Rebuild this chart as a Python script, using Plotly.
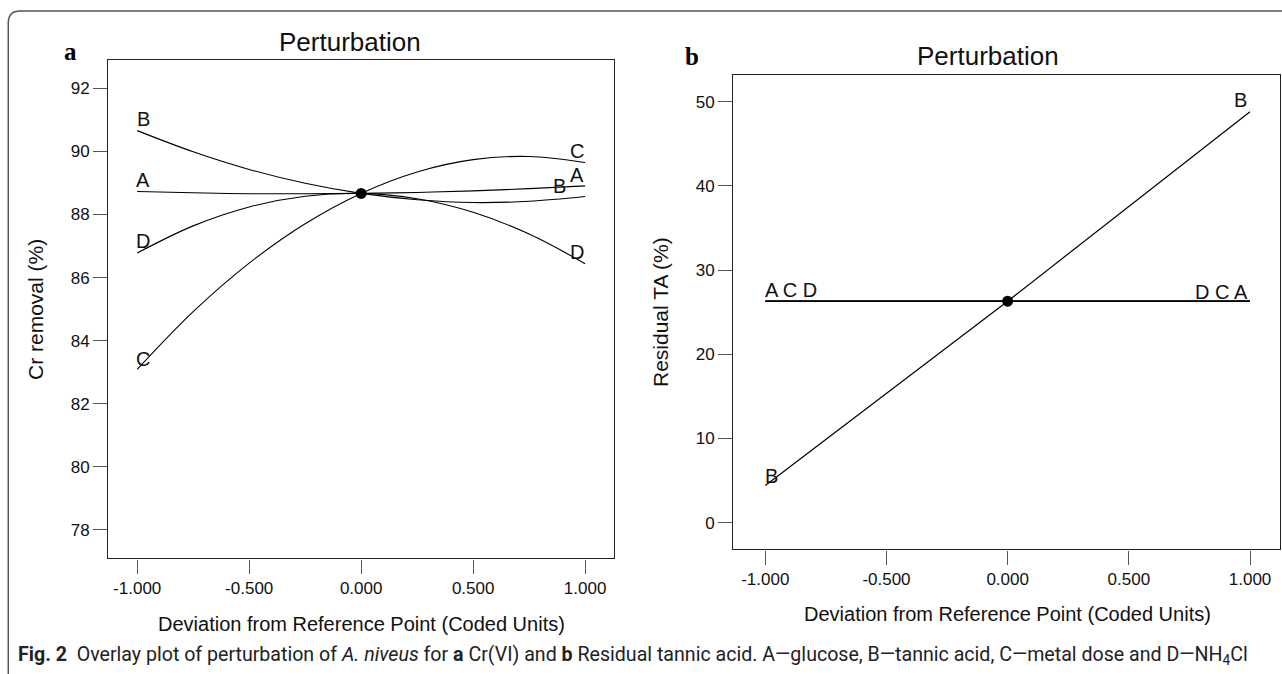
import plotly.graph_objects as go

W, H = 1282, 674

# ---------------- data ----------------
x_coded = [-1.0, -0.75, -0.5, -0.25, 0.0, 0.25, 0.5, 0.75, 1.0]
cr_A = [88.73, 88.69, 88.66, 88.66, 88.67, 88.70, 88.75, 88.82, 88.91]
cr_B = [90.66, 89.99, 89.43, 88.99, 88.67, 88.47, 88.38, 88.42, 88.57]
cr_C = [83.09, 84.92, 86.46, 87.71, 88.67, 89.35, 89.74, 89.84, 89.65]
cr_D = [86.78, 87.64, 88.24, 88.58, 88.67, 88.50, 88.07, 87.38, 86.44]
cr_ref_x = [0.0]
cr_ref_y = [88.67]

ta_x = [-1.0, 0.0, 1.0]
ta_A = [26.3, 26.3, 26.3]
ta_B = [4.4, 26.3, 48.8]
ta_C = [26.3, 26.3, 26.3]
ta_D = [26.3, 26.3, 26.3]
ta_ref_x = [0.0]
ta_ref_y = [26.3]

x_tickvals = [-1.0, -0.5, 0.0, 0.5, 1.0]
x_ticktext = ["-1.000", "-0.500", "0.000", "0.500", "1.000"]
cr_yticks = [78, 80, 82, 84, 86, 88, 90, 92]
ta_yticks = [0, 10, 20, 30, 40, 50]

# ---------------- helpers ----------------
def px(x):
    return x / W

def py(y):
    return 1 - y / H

FONT = "Liberation Sans, Arial, sans-serif"
INK = "#111111"

fig = go.Figure()

line_style = dict(color="black", width=1.1)
for ys in (cr_A, cr_B, cr_C, cr_D):
    fig.add_trace(go.Scatter(x=x_coded, y=ys, mode="lines", line=dict(shape="spline", **line_style),
                             xaxis="x", yaxis="y", hoverinfo="skip"))
fig.add_trace(go.Scatter(x=cr_ref_x, y=cr_ref_y, mode="markers", marker=dict(color="black", size=11),
                         xaxis="x", yaxis="y", hoverinfo="skip"))

for ys in (ta_A, ta_C, ta_D, ta_B):
    fig.add_trace(go.Scatter(x=ta_x, y=ys, mode="lines", line=dict(color="black", width=1.2),
                             xaxis="x2", yaxis="y2", hoverinfo="skip"))
fig.add_trace(go.Scatter(x=ta_ref_x, y=ta_ref_y, mode="markers", marker=dict(color="black", size=11),
                         xaxis="x2", yaxis="y2", hoverinfo="skip"))

axis_common = dict(showline=True, mirror=True, linecolor="#222222", linewidth=1.4,
                   showgrid=False, zeroline=False, ticks="outside", ticklen=14, tickwidth=1.2,
                   tickcolor="#555555", tickfont=dict(family=FONT, size=17, color=INK))

fig.update_layout(
    width=W, height=H, margin=dict(l=0, r=0, t=0, b=0),
    paper_bgcolor="white", plot_bgcolor="white", showlegend=False,
    xaxis=dict(domain=[px(108.3), px(613.8)], range=[-1.129, 1.128], anchor="y",
               tickvals=x_tickvals, ticktext=x_ticktext, **axis_common),
    yaxis=dict(domain=[py(558.3), py(60.3)], range=[77.10, 92.89], anchor="x",
               tickvals=cr_yticks, **axis_common),
    xaxis2=dict(domain=[px(733.3), px(1280.3)], range=[-1.132, 1.125], anchor="y2",
                tickvals=x_tickvals, ticktext=x_ticktext, **axis_common),
    yaxis2=dict(domain=[py(549.3), py(75.0)], range=[-3.17, 53.17], anchor="x2",
                tickvals=ta_yticks, **axis_common),
)

ann = []

def lab(text, x, y, xref, yref, size=20):
    ann.append(dict(text=text, x=x, y=y, xref=xref, yref=yref, showarrow=False,
                    xanchor="center", yanchor="middle",
                    font=dict(family=FONT, size=size, color=INK)))

# curve labels, panel a
lab("B", -0.973, 91.02, "x", "y")
lab("A", -0.973, 89.10, "x", "y")
lab("D", -0.973, 87.15, "x", "y")
lab("C", -0.973, 83.42, "x", "y")
lab("C", 0.962, 90.02, "x", "y")
lab("A", 0.964, 89.26, "x", "y")
lab("B", 0.885, 88.89, "x", "y")
lab("D", 0.962, 86.80, "x", "y")
# curve labels, panel b
lab("B", 0.96, 50.2, "x2", "y2")
lab("B", -0.975, 5.54, "x2", "y2")
lab("A C D", -0.893, 27.6, "x2", "y2")
lab("D C A", 0.884, 27.4, "x2", "y2")

# panel titles
lab("Perturbation", px(350), py(42), "paper", "paper", size=26)
lab("Perturbation", px(988), py(56), "paper", "paper", size=26)

# axis titles
lab("Deviation from Reference Point (Coded Units)", px(361), py(624), "paper", "paper", size=20)
lab("Deviation from Reference Point (Coded Units)", px(1007), py(614), "paper", "paper", size=20)
ann.append(dict(text="Cr removal (%)", x=px(35), y=py(310), xref="paper", yref="paper",
                showarrow=False, textangle=-90, xanchor="center", yanchor="middle",
                font=dict(family=FONT, size=21, color=INK)))
ann.append(dict(text="Residual TA (%)", x=px(660), y=py(312), xref="paper", yref="paper",
                showarrow=False, textangle=-90, xanchor="center", yanchor="middle",
                font=dict(family=FONT, size=21, color=INK)))

# panel letters
for t, x, y in (("a", 70, 51), ("b", 692, 57)):
    ann.append(dict(text="<b>" + t + "</b>", x=px(x), y=py(y), xref="paper", yref="paper",
                    showarrow=False, xanchor="center", yanchor="middle",
                    font=dict(family="Liberation Serif, Times New Roman, serif", size=25, color="black")))

# caption
caption = ("<b>Fig. 2</b>  Overlay plot of perturbation of <i>A. niveus</i> for <b>a</b> Cr(VI) and "
           "<b>b</b> Residual tannic acid. A\u2014glucose, B\u2014tannic acid, C\u2014metal dose and "
           "D\u2014NH<sub>4</sub>Cl")
ann.append(dict(text=caption, x=px(16), y=py(655), xref="paper", yref="paper", showarrow=False,
                xanchor="left", yanchor="middle",
                font=dict(family="Roboto, sans-serif", size=19.6, color="#222222")))

fig.update_layout(annotations=ann)

# outer frame (top + left with rounded corner)
path = "M {0},{1} L {0},{2} Q {0},{3} {4},{3} L {5},{3}".format(
    px(8.3), py(674), py(23), py(11), px(20), px(1282))
fig.add_shape(type="path", path=path, xref="paper", yref="paper",
              line=dict(color="#555555", width=1.5))

fig.write_html("out.html")
